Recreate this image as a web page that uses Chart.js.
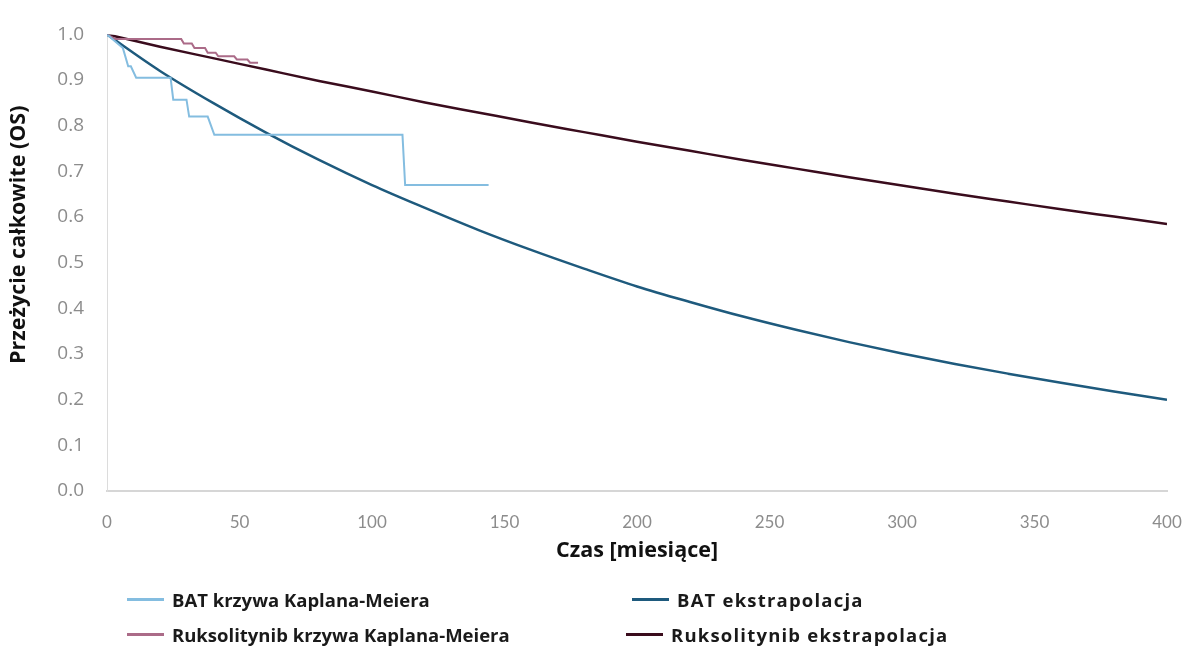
<!DOCTYPE html>
<html lang="pl">
<head>
<meta charset="utf-8">
<title>Przeżycie całkowite (OS)</title>
<script src="https://cdn.jsdelivr.net/npm/chart.js@4.4.1/dist/chart.umd.min.js"></script>
<style>
  html, body { margin: 0; padding: 0; background: #ffffff; }
  #wrap { position: relative; width: 1192px; height: 651px; overflow: hidden; }
  #chart { position: absolute; left: 0; top: 0; }
  #legend { position: absolute; left: 0; top: 0; width: 1192px; height: 651px; pointer-events: none; }
  .item { position: absolute; display: flex; align-items: center; height: 30px;
          font-family: "Open Sans", Lato, sans-serif; font-weight: 700; font-size: 18.5px; color: #1a1a1a; white-space: nowrap; }
  .item.col2 { letter-spacing: 1.2px; }
  .swatch { display: inline-block; width: 37px; height: 3px; margin-right: 8px; }
</style>
</head>
<body>
<div id="wrap">
  <canvas id="chart" width="1192" height="651"></canvas>
  <div id="legend"></div>
</div>
<script>
// Overall survival: Kaplan-Meier estimates and extrapolated curves (months)
const seriesLabels = [
  'BAT krzywa Kaplana-Meiera',
  'BAT ekstrapolacja',
  'Ruksolitynib krzywa Kaplana-Meiera',
  'Ruksolitynib ekstrapolacja'
];

// BAT – Kaplan-Meier
const batKmMonths   = [0, 6, 8, 9, 11, 24, 25, 30, 31, 38, 40.5, 111.5, 112.5, 144];
const batKmSurvival = [1.00, 0.97, 0.93, 0.93, 0.905, 0.905, 0.857, 0.857, 0.82, 0.82, 0.78, 0.78, 0.67, 0.67];

// BAT – extrapolation
const batExtMonths   = [0, 20, 40, 60, 80, 100, 120, 140, 160, 180, 200, 220, 240, 260, 280, 300, 320, 340, 360, 380, 400];
const batExtSurvival = [1.00, 0.92, 0.85, 0.785, 0.725, 0.67, 0.62, 0.572, 0.528, 0.487, 0.448, 0.414, 0.382, 0.353, 0.326, 0.301, 0.278, 0.257, 0.237, 0.218, 0.20];

// Ruksolitynib – Kaplan-Meier
const ruxKmMonths   = [0, 3, 28, 29, 32, 33, 37, 38, 41, 42, 48, 49, 53, 54, 57];
const ruxKmSurvival = [1.00, 0.99, 0.99, 0.98, 0.98, 0.97, 0.97, 0.96, 0.96, 0.952, 0.952, 0.945, 0.945, 0.938, 0.938];

// Ruksolitynib – extrapolation
const ruxExtMonths   = [0, 20, 40, 60, 80, 100, 120, 140, 160, 180, 200, 220, 240, 260, 280, 300, 320, 340, 360, 380, 400];
const ruxExtSurvival = [1.00, 0.973, 0.948, 0.923, 0.898, 0.875, 0.851, 0.829, 0.807, 0.786, 0.765, 0.745, 0.725, 0.706, 0.687, 0.669, 0.651, 0.634, 0.617, 0.601, 0.585];

// Axis tick values
const xTicks = [0, 50, 100, 150, 200, 250, 300, 350, 400];
const yTicks = [0.0, 0.1, 0.2, 0.3, 0.4, 0.5, 0.6, 0.7, 0.8, 0.9, 1.0];

const colors = ['#84bde0', '#1e5a7d', '#ab6b88', '#3a0c1d'];

const toPoints = (xs, ys) => xs.map((x, i) => ({ x: x, y: ys[i] }));

const datasets = [
  { label: seriesLabels[0], data: toPoints(batKmMonths, batKmSurvival), borderColor: colors[0], borderWidth: 2 },
  { label: seriesLabels[1], data: toPoints(batExtMonths, batExtSurvival), borderColor: colors[1], borderWidth: 2.5,
    cubicInterpolationMode: 'monotone' },
  { label: seriesLabels[2], data: toPoints(ruxKmMonths, ruxKmSurvival), borderColor: colors[2], borderWidth: 2 },
  { label: seriesLabels[3], data: toPoints(ruxExtMonths, ruxExtSurvival), borderColor: colors[3], borderWidth: 2.5,
    cubicInterpolationMode: 'monotone' }
].map(d => Object.assign(d, { fill: false, pointRadius: 0, backgroundColor: d.borderColor }));

// extrapolations are drawn beneath the KM curves
datasets[0].order = 1; datasets[2].order = 1;
datasets[1].order = 2; datasets[3].order = 2;

const titleFont = { family: "'Open Sans'", size: 21.5, weight: 'bold' };

const chart = new Chart(document.getElementById('chart'), {
  type: 'line',
  data: { datasets: datasets },
  options: {
    responsive: false,
    animation: false,
    layout: { padding: { left: 0, top: 33, right: 25, bottom: 85 } },
    plugins: { legend: { display: false }, tooltip: { enabled: false } },
    scales: {
      x: {
        type: 'linear',
        min: 0, max: 400,
        afterBuildTicks: s => { s.ticks = xTicks.map(v => ({ value: v })); },
        afterFit: s => { s.height = 75; },
        // tick marks hidden; their length only spaces the labels from the axis
        grid: { display: false, drawTicks: true, tickLength: 19 },
        border: { display: true, color: '#d6d6d6', width: 2 },
        ticks: { padding: 2, color: '#8c8c8c', font: { family: 'Lato', size: 17 }, maxRotation: 0 },
        title: { display: true, text: 'Czas [miesiące]', color: '#111111',
                 font: titleFont, padding: { top: 0, bottom: 2 } }
      },
      y: {
        type: 'linear',
        min: 0, max: 1,
        afterBuildTicks: s => { s.ticks = yTicks.map(v => ({ value: v })); },
        afterFit: s => { s.width = 107; },
        grid: { display: false, drawTicks: false },
        border: { display: true, color: '#dcdcdc', width: 1 },
        ticks: { padding: 23, color: '#8c8c8c', font: { family: "'Open Sans'", size: 19 },
                 callback: v => Number(v).toFixed(1) },
        title: { display: true, text: '          Przeżycie całkowite (OS)', color: '#111111',
                 font: titleFont, padding: { top: 6, bottom: 0 } }
      }
    }
  }
});

// Two-column legend built from the chart's datasets
const legendSlots = [
  { left: 127, top: 584, col: 1 },
  { left: 632, top: 584, col: 2 },
  { left: 127, top: 619, col: 1 },
  { left: 626, top: 619, col: 2 }
];
const legendEl = document.getElementById('legend');
chart.data.datasets.forEach((ds, i) => {
  const item = document.createElement('div');
  item.className = 'item' + (legendSlots[i].col === 2 ? ' col2' : '');
  item.style.left = legendSlots[i].left + 'px';
  item.style.top = legendSlots[i].top + 'px';
  const sw = document.createElement('span');
  sw.className = 'swatch';
  sw.style.background = ds.borderColor;
  const tx = document.createElement('span');
  tx.textContent = ds.label;
  item.appendChild(sw);
  item.appendChild(tx);
  legendEl.appendChild(item);
});
</script>
</body>
</html>
